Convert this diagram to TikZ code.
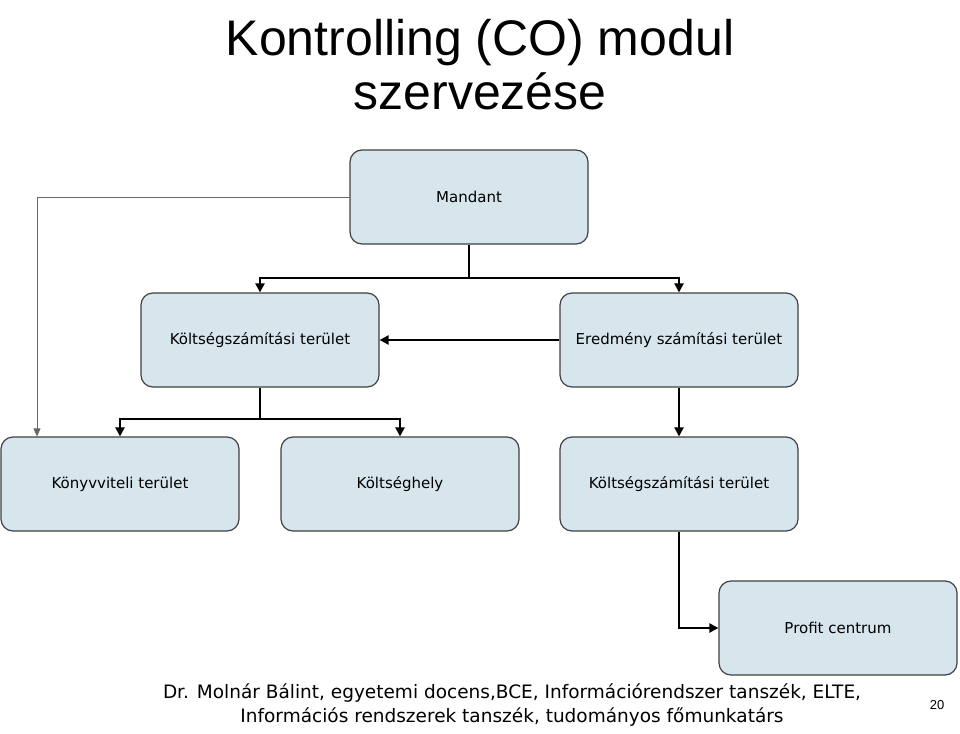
\documentclass[tikz,border=0pt]{standalone}
\usepackage{fontspec}
\setmainfont{Liberation Sans}
\newfontfamily\boxfont{DejaVu Sans}
\usetikzlibrary{arrows.meta}
\begin{document}
\begin{tikzpicture}[x=1pt,y=-1pt,
  unit box/.style={draw=black!75,line width=1.2pt,fill=cyan!40!gray!25!white,rounded corners=12pt,
    minimum width=238pt,minimum height=94pt,font=\boxfont\fontsize{15}{18}\selectfont},
  link/.style={line width=2.2pt,-{Triangle[length=9pt,width=9pt]}},
  thin link/.style={draw=black!60,line width=0.8pt,-{Triangle[length=8pt,width=7pt]}}]
\useasboundingbox (0,0) rectangle (960,733);
\node[align=center,font=\fontsize{50}{54}\selectfont] (title) at (480,65) {Kontrolling (CO) modul\\szervezése};

\node[unit box] (mandant) at (469,197) {Mandant};
\node[unit box] (kszt) at (260,340) {Költségszámítási terület};
\node[unit box] (eszt) at (679,340) {Eredmény számítási terület};
\node[unit box] (konyv) at (120,484) {Könyvviteli terület};
\node[unit box] (khely) at (400,484) {Költséghely};
\node[unit box] (kszt2) at (679,484) {Költségszámítási terület};
\node[unit box] (profit) at (838,628) {Profit centrum};

\coordinate (m1) at (469,278);
\coordinate (k1) at (260,419);
\draw[line width=2.2pt] (mandant.south) -- (m1);
\draw[link] (m1) -| (kszt.north);
\draw[link] (m1) -| (eszt.north);
\draw[thin link] (mandant.west) -| (konyv.north west -| 37,0);
\draw[link] (eszt.west) -- (kszt.east);
\draw[line width=2.2pt] (kszt.south) -- (k1);
\draw[link] (k1) -| (konyv.north);
\draw[link] (k1) -| (khely.north);
\draw[link] (eszt.south) -- (kszt2.north);
\draw[link] (kszt2.south) |- (profit.west);

\node[align=center,font=\boxfont\fontsize{18.5}{24}\selectfont] (footer) at (512,705) {Dr. Molnár Bálint, egyetemi docens,BCE, Információrendszer tanszék, ELTE,\\Információs rendszerek tanszék, tudományos főmunkatárs};
\node[font=\fontsize{13}{15}\selectfont] (page) at (937,705) {20};
\end{tikzpicture}
\end{document}
